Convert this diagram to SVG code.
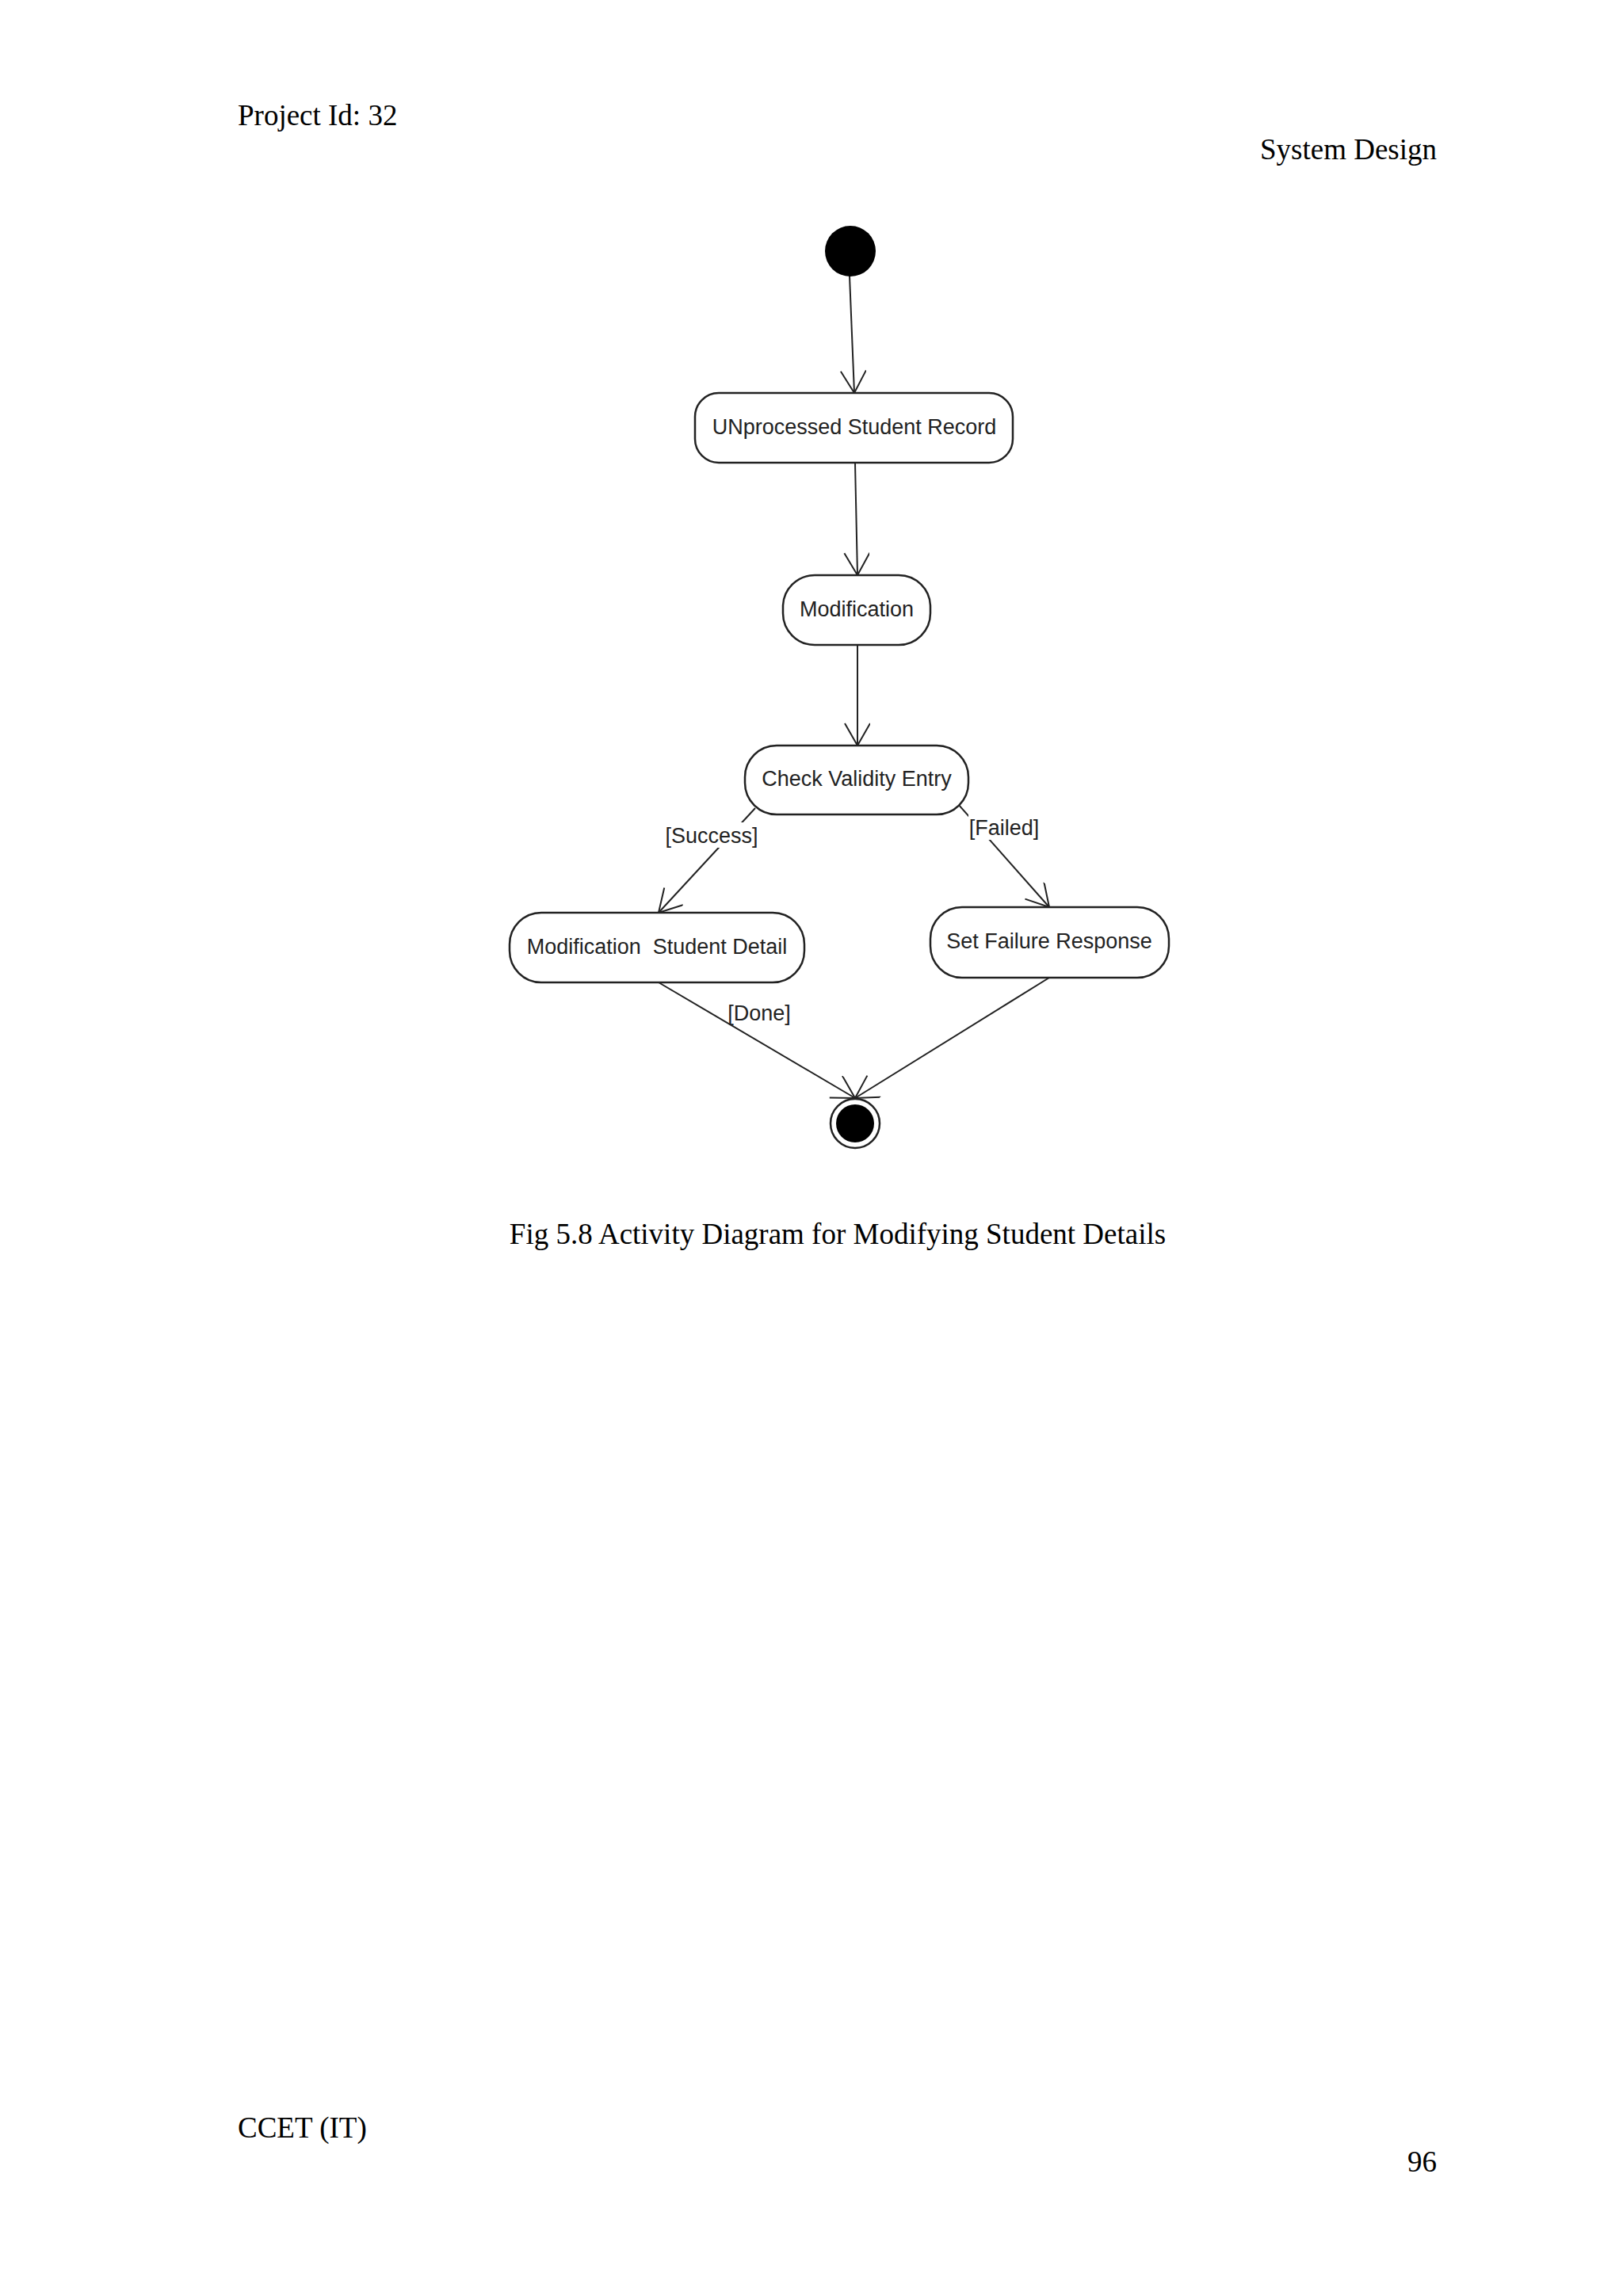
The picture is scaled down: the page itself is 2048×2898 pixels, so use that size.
<svg xmlns="http://www.w3.org/2000/svg" width="2048" height="2898" viewBox="0 0 2048 2898">
<style>
.page{font-family:"Liberation Serif",serif;font-size:37px;fill:#000}
.node rect{fill:#fff;stroke:#222;stroke-width:2.5}
.node text,.lbl{font-family:"Liberation Sans",Arial,sans-serif;font-size:27px;fill:#222;text-anchor:middle}
.conn line{stroke:#222;stroke-width:2;marker-end:url(#open)}
</style>
<defs>
<marker id="open" markerUnits="userSpaceOnUse" markerWidth="40" markerHeight="40" refX="30" refY="16" orient="auto">
<path d="M2,0 L30,16 L2,32" fill="none" stroke="#222" stroke-width="2"/>
</marker>
</defs>
<rect width="2048" height="2898" fill="#fff"/>
<text class="page" x="300" y="158">Project Id: 32</text>
<text class="page" x="1813" y="201" text-anchor="end">System Design</text>
<text class="page" x="300" y="2698">CCET (IT)</text>
<text class="page" x="1813" y="2741" text-anchor="end">96</text>
<text class="page" x="1057" y="1570" text-anchor="middle">Fig 5.8   Activity Diagram for Modifying Student Details</text>

<g id="conns" class="conn">
<line x1="1072" y1="348" x2="1078" y2="496"/>
<line x1="1079" y1="584" x2="1082" y2="726"/>
<line x1="1082" y1="814" x2="1082" y2="941"/>
<line x1="953" y1="1020" x2="831" y2="1152"/>
<line x1="1209" y1="1015" x2="1324" y2="1145"/>
<line x1="831" y1="1240" x2="1079" y2="1386"/>
<line x1="1324" y1="1234" x2="1079" y2="1386"/>
</g>
<rect x="840" y="1038" width="120" height="32" fill="#fff"/>
<text class="lbl" x="898" y="1064">[Success]</text>
<rect x="1222" y="1028" width="90" height="32" fill="#fff"/>
<text class="lbl" x="1267" y="1054">[Failed]</text>
<text class="lbl" x="958" y="1288">[Done]</text>

<g id="start"><circle cx="1073" cy="317" r="32" fill="#000"/></g>
<g id="n1" class="node"><rect x="877" y="496" width="401" height="88" rx="30"/><text x="1078" y="548">UNprocessed Student Record</text></g>
<g id="n2" class="node"><rect x="988" y="726" width="186" height="88" rx="40"/><text x="1081" y="778">Modification</text></g>
<g id="n3" class="node"><rect x="940" y="941" width="282" height="87" rx="40"/><text x="1081" y="992">Check Validity Entry</text></g>
<g id="n4" class="node"><rect x="643" y="1152" width="372" height="88" rx="40"/><text x="829" y="1204" xml:space="preserve">Modification  Student Detail</text></g>
<g id="n5" class="node"><rect x="1174" y="1145" width="301" height="89" rx="40"/><text x="1324" y="1197">Set Failure Response</text></g>
<g id="end"><circle cx="1079" cy="1418" r="31" fill="#fff" stroke="#222" stroke-width="2.5"/><circle cx="1079" cy="1418" r="24" fill="#000"/></g>
</svg>
